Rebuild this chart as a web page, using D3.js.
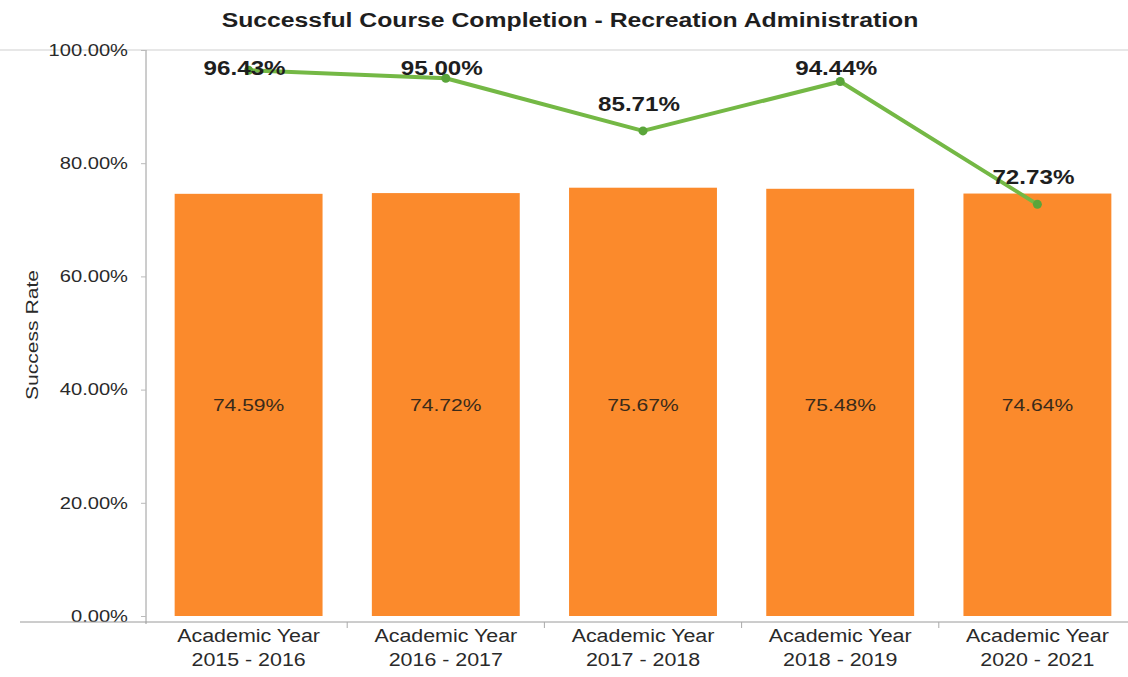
<!DOCTYPE html>
<html>
<head>
<meta charset="utf-8">
<script src="https://cdn.jsdelivr.net/npm/d3@7"></script>
<style>
  html, body { margin: 0; padding: 0; background: #fff; }
  svg { display: block; font-family: "Liberation Sans", Arial, sans-serif; }
</style>
</head>
<body>
<svg id="chart" width="1128" height="677"></svg>
<script>
// Academic years and their rates
const yearLines = [
  ["Academic Year", "2015 - 2016"],
  ["Academic Year", "2016 - 2017"],
  ["Academic Year", "2017 - 2018"],
  ["Academic Year", "2018 - 2019"],
  ["Academic Year", "2020 - 2021"]
];
const years = ["2015 - 2016", "2016 - 2017", "2017 - 2018", "2018 - 2019", "2020 - 2021"];
const barRates = [0.7459, 0.7472, 0.7567, 0.7548, 0.7464];
const lineRates = [0.9643, 0.9500, 0.8571, 0.9444, 0.7273];
const yTicks = [0, 0.2, 0.4, 0.6, 0.8, 1.0];

const svg = d3.select("#chart");
const W = 1128, H = 677;
const plot = { left: 146, right: 1136, top: 50, bottom: 616 };

const x = d3.scaleBand().domain(years).range([plot.left + 4, plot.right]).paddingInner(0.25).paddingOuter(0.125);
const y = d3.scaleLinear().domain([0, 1]).range([plot.bottom, plot.top]);
const pct = d3.format(".2%");

// Text helper: wide-set lettering, anchored at (ax, ay)
function wideText(sel, ax, ay, sx) {
  return sel.attr("x", 0).attr("y", 0)
    .attr("transform", (d, i) => {
      const px = typeof ax === "function" ? ax(d, i) : ax;
      const py = typeof ay === "function" ? ay(d, i) : ay;
      return `translate(${px},${py}) scale(${sx},1)`;
    });
}

// Title
wideText(svg.append("text"), 570, 27, 1.18)
  .attr("text-anchor", "middle")
  .attr("font-size", 21).attr("font-weight", "bold").attr("fill", "#1e1e1e")
  .text("Successful Course Completion - Recreation Administration");

// Top border of plot area
svg.append("line")
  .attr("x1", 0).attr("x2", W).attr("y1", plot.top).attr("y2", plot.top)
  .attr("stroke", "#cfcfcf").attr("stroke-width", 1.2);

// Bars
svg.append("g").selectAll("rect").data(barRates).join("rect")
  .attr("x", (d, i) => x(years[i]))
  .attr("y", d => y(d))
  .attr("width", x.bandwidth())
  .attr("height", d => y(0) - y(d))
  .attr("fill", "#fb8a2c");

// Bar value labels
wideText(svg.append("g").selectAll("text").data(barRates).join("text"),
    (d, i) => x(years[i]) + x.bandwidth() / 2, 411, 1.24)
  .attr("text-anchor", "middle")
  .attr("font-size", 17).attr("fill", "#3a2a1a")
  .text(d => pct(d));

// Y axis
const yAxis = d3.axisLeft(y).tickValues(yTicks).tickFormat(pct).tickSize(5).tickPadding(0);
const gy = svg.append("g").attr("transform", `translate(${plot.left},0)`).call(yAxis);
gy.select(".domain").attr("stroke", "#9a9a9a").attr("d", `M0,${plot.top}V${plot.bottom + 8}`);
gy.selectAll(".tick line").attr("stroke", "#bbb");
gy.selectAll(".tick text")
  .attr("x", 0).attr("dy", "0.32em")
  .attr("transform", "translate(-18,0) scale(1.22,1)")
  .attr("font-size", 16.5).attr("fill", "#2a2a2a")
  .attr("font-family", "'Liberation Sans', Arial, sans-serif");

// X axis
const xAxis = d3.axisBottom(x).tickSize(0).tickFormat("");
const gx = svg.append("g").attr("transform", `translate(0,${plot.bottom + 6})`).call(xAxis);
gx.select(".domain").attr("stroke", "#9a9a9a").attr("d", `M20,0H${W}`);
// Category separators
const step = x.step();
svg.append("g").selectAll("line").data(years.slice(1)).join("line")
  .attr("x1", d => x(d) - step * x.paddingInner() / 2)
  .attr("x2", d => x(d) - step * x.paddingInner() / 2)
  .attr("y1", plot.bottom + 6).attr("y2", plot.bottom + 12)
  .attr("stroke", "#aaa");

// Category labels, two lines each
const cat = svg.append("g").selectAll("text").data(yearLines).join("text")
  .attr("text-anchor", "middle")
  .attr("font-size", 18).attr("fill", "#2a2a2a")
  .attr("transform", (d, i) => `translate(${x(years[i]) + x.bandwidth() / 2},0) scale(1.19,1)`);
cat.selectAll("tspan").data(d => d).join("tspan")
  .attr("x", 0)
  .attr("y", (d, j) => 642 + j * 24)
  .text(d => d);

// Y axis title
svg.append("text")
  .attr("transform", "translate(38,335) rotate(-90) scale(1.24,1)")
  .attr("text-anchor", "middle")
  .attr("font-size", 17).attr("fill", "#2a2a2a")
  .text("Success Rate");

// Line series
const cx = (i) => x(years[i]) + x.bandwidth() / 2;
const line = d3.line().x((d, i) => cx(i)).y(d => y(d));
svg.append("path")
  .datum(lineRates)
  .attr("d", line)
  .attr("fill", "none")
  .attr("stroke", "#74b845")
  .attr("stroke-width", 4)
  .attr("stroke-linejoin", "round");
svg.append("g").selectAll("circle").data(lineRates).join("circle")
  .attr("cx", (d, i) => cx(i))
  .attr("cy", d => y(d))
  .attr("r", 4.5)
  .attr("fill", "#5aa53a");

// Line value labels
wideText(svg.append("g").selectAll("text").data(lineRates).join("text"),
    (d, i) => cx(i) - 4, d => Math.max(y(d) - 27, 68) + 7, 1.21)
  .attr("text-anchor", "middle")
  .attr("font-size", 20).attr("font-weight", "bold").attr("fill", "#1e1e1e")
  .text(d => pct(d));
</script>
</body>
</html>
